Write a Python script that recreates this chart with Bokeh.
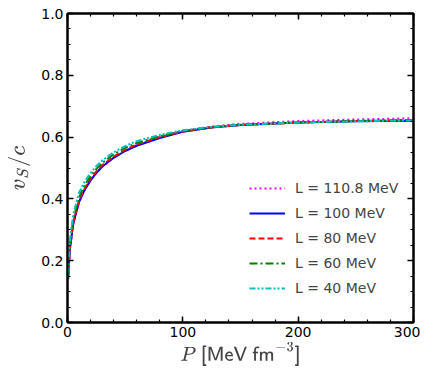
from bokeh.plotting import figure
from bokeh.models import (LinearAxis, Range1d, Legend, LegendItem, FixedTicker,
                          CustomLabelingPolicy, NumeralTickFormatter, CustomJSTickFormatter)
from bokeh.embed import file_html
from bokeh.resources import INLINE

P = [0.5, 2, 5, 10, 15, 20, 25, 30, 40, 50, 60, 80, 100, 125, 150, 200, 250, 300]
v_1108 = [0.14, 0.235, 0.32, 0.39, 0.43, 0.46, 0.484, 0.505, 0.534, 0.556, 0.574, 0.600, 0.620, 0.634, 0.643, 0.652, 0.657, 0.661]
v_100 = [0.14, 0.235, 0.32, 0.39, 0.43, 0.46, 0.484, 0.504, 0.533, 0.555, 0.572, 0.597, 0.617, 0.631, 0.639, 0.647, 0.651, 0.653]
v_80 = [0.145, 0.24, 0.325, 0.395, 0.435, 0.465, 0.489, 0.509, 0.537, 0.559, 0.576, 0.600, 0.618, 0.631, 0.639, 0.647, 0.652, 0.655]
v_60 = [0.15, 0.25, 0.335, 0.405, 0.445, 0.474, 0.497, 0.516, 0.544, 0.565, 0.581, 0.603, 0.620, 0.632, 0.640, 0.647, 0.652, 0.655]
v_40 = [0.16, 0.265, 0.35, 0.42, 0.457, 0.484, 0.506, 0.524, 0.551, 0.571, 0.587, 0.607, 0.622, 0.633, 0.640, 0.647, 0.651, 0.654]
labels = ["L = 110.8 MeV", "L = 100 MeV", "L = 80 MeV", "L = 60 MeV", "L = 40 MeV"]

series = [v_1108, v_100, v_80, v_60, v_40]
colors = ["#ff00ff", "#0000ff", "#ff0000", "#008000", "#00bfbf"]
dashes = ["2 3", "solid", "6 3", "8 3 2 3", "6 2 2 2 2 2"]

p = figure(width=420, height=360, output_backend="svg", toolbar_location=None,
           x_range=Range1d(0, 300), y_range=Range1d(0, 1.0),
           x_axis_location=None, y_axis_location=None,
           frame_width=346, frame_height=309,
           min_border_left=67, min_border_right=7, min_border_top=13, min_border_bottom=38)
p.grid.visible = False
p.outline_line_color = "black"
p.outline_line_width = 2

renderers = []
for s, c, d in zip(series, colors, dashes):
    r = p.line(P, s, line_color=c, line_width=2, line_dash=d)
    renderers.append(r)

xt = FixedTicker(ticks=[0, 100, 200, 300], minor_ticks=list(range(0, 301, 20)))
yt = FixedTicker(ticks=[0, 0.2, 0.4, 0.6, 0.8, 1.0], minor_ticks=[i * 0.05 for i in range(21)])
no_labels = CustomLabelingPolicy(code="return new Set()")
empty_fmt = CustomJSTickFormatter(code="return ''")

xb = LinearAxis(ticker=xt)
yl = LinearAxis(ticker=yt, formatter=NumeralTickFormatter(format="0.0"))
xa = LinearAxis(ticker=xt, major_label_policy=no_labels, formatter=empty_fmt)
yr = LinearAxis(ticker=yt, major_label_policy=no_labels, formatter=empty_fmt)
p.add_layout(xb, "below")
p.add_layout(yl, "left")
p.add_layout(xa, "above")
p.add_layout(yr, "right")

for ax in [xb, yl, xa, yr]:
    ax.major_tick_in = 6
    ax.major_tick_out = 0
    ax.minor_tick_in = 3
    ax.minor_tick_out = 0
    ax.axis_line_width = 2
    ax.major_tick_line_width = 1.5
    ax.minor_tick_line_width = 1.2
    ax.major_label_text_font = "DejaVu Sans"
    ax.major_label_text_color = "black"
    ax.major_label_text_font_size = "14px"
    ax.major_label_standoff = 4
for ax in [xa, yr]:
    ax.major_label_standoff = 0

xb.axis_label = r"$$P\textsf{ [MeV fm}^{-3}\textsf{]}$$"
yl.axis_label = r"$$v_S/c$$"
xb.axis_label_text_font_size = "17px"
yl.axis_label_text_font_size = "18px"
xb.axis_label_text_font_style = "normal"
yl.axis_label_text_font_style = "normal"
xb.axis_label_standoff = 2
yl.axis_label_standoff = 8

legend = Legend(items=[LegendItem(label=l, renderers=[r]) for l, r in zip(labels, renderers)],
                location=(178, 22), border_line_alpha=0, background_fill_alpha=0,
                glyph_width=36, glyph_height=16, label_text_font="DejaVu Sans",
                label_text_font_size="14px", spacing=9, padding=4, label_standoff=10)
p.add_layout(legend)

open("out.html", "w").write(file_html(p, INLINE))
